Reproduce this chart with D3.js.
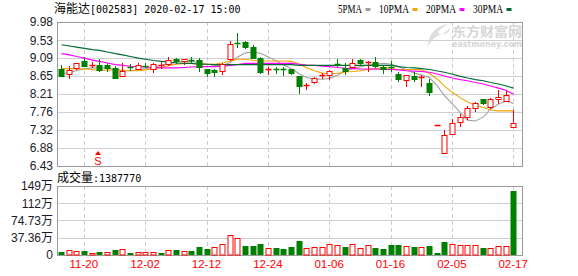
<!DOCTYPE html>
<html><head><meta charset="utf-8">
<script src="https://cdn.jsdelivr.net/npm/d3@7"></script>
<style>body{margin:0;background:#fff}svg{display:block}</style>
</head><body><svg id="c" width="578" height="276"></svg>
<script>
// ---------------- DATA ----------------
const dates = ["11-15","11-18","11-19","11-20","11-21","11-22","11-25","11-26","11-27","11-28","11-29",
"12-02","12-03","12-04","12-05","12-06","12-09","12-10","12-11","12-12","12-13","12-16","12-17","12-18","12-19","12-20",
"12-23","12-24","12-25","12-26","12-27","12-30","12-31","01-02","01-03","01-06","01-07","01-08","01-09","01-10",
"01-13","01-14","01-15","01-16","01-17","01-20","01-21","01-22","01-23","02-03","02-04","02-05","02-06","02-07",
"02-10","02-11","02-12","02-13","02-14","02-17"];
const tickDates = ["11-20","12-02","12-12","12-24","01-06","01-16","02-05","02-17"];

const open  = [8.82,8.70,8.84,9.02,8.91,8.92,8.92,8.84,8.66,8.88,8.83,8.90,8.83,8.91,8.95,9.08,9.02,9.05,9.04,8.81,
8.79,8.78,9.06,9.47,9.49,9.36,9.10,8.80,8.83,8.82,8.81,8.65,8.41,8.50,8.64,8.67,8.94,8.84,8.86,9.04,
8.97,8.99,8.88,8.88,8.71,8.55,8.65,8.60,8.48,7.43,6.76,7.21,7.51,7.65,7.85,8.07,7.89,8.07,8.04,7.39];
const high  = [8.92,8.90,8.97,9.12,9.00,9.08,8.96,8.90,8.98,8.95,8.97,8.96,8.96,8.99,9.12,9.09,9.08,9.11,9.09,8.83,
8.81,8.98,9.52,9.70,9.51,9.41,9.12,8.88,8.88,8.86,8.82,8.66,8.47,8.63,8.72,8.79,9.08,8.96,9.08,9.08,
9.03,9.11,8.90,9.02,8.74,8.67,8.74,8.67,8.57,7.43,7.32,7.60,7.71,7.92,8.02,8.08,8.10,8.30,8.28,7.81];
const low   = [8.64,8.59,8.83,8.89,8.86,8.77,8.78,8.59,8.65,8.80,8.82,8.86,8.74,8.85,8.93,8.96,8.95,8.98,8.76,8.64,
8.64,8.70,9.05,9.37,9.33,9.09,8.73,8.70,8.73,8.67,8.70,8.24,8.34,8.47,8.59,8.57,8.90,8.70,8.86,8.92,
8.76,8.88,8.73,8.76,8.52,8.39,8.53,8.41,8.18,7.43,6.76,7.21,7.42,7.59,7.79,7.95,7.87,7.98,8.03,7.39];
const close = [8.65,8.80,8.96,8.90,8.92,8.80,8.84,8.59,8.78,8.87,8.93,8.89,8.94,8.93,9.04,9.02,9.08,9.03,8.86,8.72,
8.74,8.94,9.44,9.45,9.37,9.10,8.75,8.82,8.81,8.80,8.72,8.39,8.43,8.60,8.67,8.78,8.93,8.76,8.96,8.96,
8.99,8.90,8.82,8.87,8.58,8.67,8.57,8.62,8.26,7.43,7.19,7.48,7.63,7.85,7.98,7.98,8.07,8.13,8.18,7.48];

const ma5  = [8.70,8.74,8.78,8.83,8.85,8.85,8.84,8.81,8.78,8.78,8.80,8.83,8.87,8.91,8.96,8.99,9.01,9.01,8.98,8.94,
8.91,8.91,8.99,9.12,9.22,9.24,9.21,9.12,9.02,8.92,8.83,8.70,8.61,8.57,8.57,8.59,8.67,8.77,8.83,8.88,
8.92,8.94,8.96,8.94,8.88,8.80,8.72,8.67,8.61,8.40,8.16,7.96,7.74,7.56,7.54,7.64,7.83,7.96,8.03,7.97];
const ma10 = [8.83,8.83,8.82,8.82,8.81,8.78,8.80,8.80,8.79,8.78,8.78,8.80,8.83,8.86,8.90,8.94,8.96,8.96,8.94,8.94,
8.94,8.97,9.02,9.06,9.06,9.03,9.02,9.02,9.02,9.02,9.01,8.94,8.85,8.78,8.72,8.71,8.71,8.75,8.76,8.78,
8.81,8.83,8.86,8.83,8.81,8.81,8.81,8.80,8.71,8.57,8.40,8.24,8.11,8.01,7.93,7.87,7.81,7.79,7.79,7.79];
const ma20 = [9.20,9.17,9.13,9.09,9.04,9.01,8.97,8.93,8.91,8.89,8.88,8.87,8.86,8.85,8.85,8.85,8.86,8.87,8.88,8.88,
8.88,8.89,8.91,8.93,8.96,8.96,8.96,8.96,8.96,8.96,8.96,8.94,8.92,8.91,8.89,8.88,8.86,8.84,8.83,8.82,
8.82,8.82,8.81,8.81,8.80,8.78,8.77,8.76,8.74,8.70,8.65,8.60,8.56,8.53,8.49,8.45,8.40,8.35,8.29,8.20];
const ma30 = [9.42,9.39,9.36,9.33,9.30,9.28,9.24,9.20,9.17,9.13,9.09,9.06,9.03,9.01,8.99,8.97,8.96,8.96,8.94,8.94,
8.93,8.93,8.93,8.93,8.93,8.93,8.93,8.93,8.93,8.93,8.93,8.91,8.91,8.91,8.91,8.91,8.91,8.91,8.91,8.91,
8.91,8.91,8.91,8.91,8.88,8.86,8.85,8.83,8.81,8.77,8.74,8.69,8.64,8.60,8.56,8.53,8.49,8.45,8.40,8.35];

// volume in 万 (10k hands); volUp: 1 = red (up), 0 = green (down)
const volume = [7.2,10.8,8.7,9.4,4.3,7.2,6.5,11.5,13.0,5.0,6.5,6.5,6.5,5.0,10.8,10.8,8.7,9.4,17.3,13.7,
16.6,23.8,42.6,36.8,19.5,19.5,23.8,15.2,15.2,13.0,17.3,31.0,15.2,16.6,16.6,23.1,21.7,17.3,23.8,15.2,
21.0,15.2,13.0,21.7,21.7,18.8,17.3,17.3,19.5,5.0,28.2,23.8,22.4,22.4,22.4,15.2,14.4,18.8,18.8,138.777];
const volUp = [0,1,1,0,1,0,1,0,1,0,1,1,1,0,1,0,1,0,0,0,1,1,1,1,0,0,0,1,0,0,0,0,1,1,1,1,1,0,1,1,
1,0,0,0,0,1,0,1,0,0,0,1,1,1,1,0,1,1,1,0];

const priceTicks = [9.98,9.53,9.09,8.65,8.21,7.76,7.32,6.88,6.43];
const priceTickLabels = ["9.98","9.53","9.09","8.65","8.21","7.76","7.32","6.88","6.43"];
const volTicks = [149.45,112.09,74.73,37.36,0];
const volTickLabels = ["149万","112万","74.73万","37.36万","0"];

const maNames = ["5PMA","10PMA","20PMA","30PMA"];
const maColors = ["#a0a0a0","#f5a300","#ff00ff","#006b35"];
const titleName = "海能达", titleRest = "[002583] 2020-02-17 15:00";
const volTitleName = "成交量", volTitleRest = ":1387770";

// ---------------- CHART ----------------
const svg = d3.select("#c");
const L = 57, R = 522, PT = 22, PB = 166, VT = 186, VB = 255;
const RED = "#ff0000", GREEN = "#008000";
const n = dates.length;
const x = d3.scaleBand().domain(d3.range(n)).range([L, 517]);
const cx = i => Math.round(x(i) + x.bandwidth() / 2) + 0.5;
const y = d3.scaleLinear().domain([6.43, 9.98]).range([PB, PT]);
const yv = d3.scaleLinear().domain([0, 149.45]).range([VB, VT]);
const tickIdx = tickDates.map(d => dates.indexOf(d));
const CJK = "'Noto Sans CJK SC', sans-serif";
const MONO = "'DejaVu Sans Mono', monospace";

// watermark
const wm = svg.append("g");
wm.append("path")
  .attr("d", "M449,24 C437,25 428,33 428,47 C431,40 436,36 441,35 C437,33 437,30 449,24 Z M441,35 C446,34 450,32 450,28 C447,31 444,33 441,35 Z")
  .attr("fill", "#dedede");
wm.append("text").attr("x", 452).attr("y", 35.5).text("东方财富网")
  .attr("font-family", CJK).attr("font-weight", "bold").attr("font-size", 13)
  .attr("fill", "#d6d6d6").attr("textLength", 70).attr("lengthAdjust", "spacingAndGlyphs");
wm.append("text").attr("x", 452).attr("y", 46.5).text("eastmoney.com")
  .attr("font-family", "'DejaVu Sans', sans-serif").attr("font-weight", "bold").attr("font-size", 8.5)
  .attr("fill", "#d6d6d6").attr("textLength", 70).attr("lengthAdjust", "spacingAndGlyphs");

// price gridlines + labels
const gy = svg.append("g").attr("transform", `translate(${L},0)`)
  .call(d3.axisLeft(y).tickValues(priceTicks).tickFormat((d, i) => priceTickLabels[i])
        .tickSize(-(R - L)).tickPadding(4));
gy.select(".domain").remove();
gy.selectAll("line").attr("stroke", "#d0d0d0").attr("shape-rendering", "crispEdges");
gy.selectAll("text").attr("font-family", "'Liberation Sans', Arial, sans-serif")
  .attr("font-size", 12).attr("fill", "#1a1a2a");

// volume gridlines + labels
const gv = svg.append("g").attr("transform", `translate(${L},0)`)
  .call(d3.axisLeft(yv).tickValues(volTicks).tickFormat((d, i) => volTickLabels[i])
        .tickSize(-(R - L)).tickPadding(4));
gv.select(".domain").remove();
gv.selectAll("line").attr("stroke", "#d0d0d0").attr("shape-rendering", "crispEdges");
gv.selectAll("text").attr("font-family", "'Liberation Sans', Arial, " + CJK)
  .attr("font-size", 12).attr("fill", "#1a1a2a");

// vertical dashed gridlines
[[PT, PB], [VT, VB]].forEach(([t, b]) => {
  svg.append("g").selectAll("line").data(tickIdx).join("line")
    .attr("x1", i => cx(i)).attr("x2", i => cx(i)).attr("y1", t).attr("y2", b)
    .attr("stroke", "#cccccc").attr("stroke-dasharray", "4,3");
});

// borders
[[PT, PB], [VT, VB]].forEach(([t, b]) => {
  svg.append("rect").attr("x", L + 0.5).attr("y", t + 0.5).attr("width", R - L).attr("height", b - t)
    .attr("fill", "none").attr("stroke", "#9a9a9a");
});

// date axis
const gx = svg.append("g").attr("transform", `translate(0,${VB})`)
  .call(d3.axisBottom(x).tickValues(tickIdx).tickFormat(i => dates[i]).tickSize(0).tickPadding(5));
gx.select(".domain").remove();
gx.selectAll("text").attr("font-family", "'Liberation Sans', Arial, sans-serif")
  .attr("font-size", 11.5).attr("fill", RED);

// MA lines
[ma5, ma10, ma20, ma30].forEach((arr, k) => {
  svg.append("path").datum(arr)
    .attr("d", d3.line().x((d, i) => cx(i)).y(d => y(d)))
    .attr("fill", "none").attr("stroke", maColors[k]).attr("stroke-width", 1.1);
});

// candles
const bw = 5;
const cg = svg.append("g");
d3.range(n).forEach(i => {
  const up = close[i] >= open[i];
  const col = up ? RED : GREEN;
  const xc = cx(i);
  cg.append("line").attr("x1", xc).attr("x2", xc)
    .attr("y1", Math.round(y(high[i]))).attr("y2", Math.round(y(low[i])) + 1)
    .attr("stroke", col);
  const yt = Math.round(y(Math.max(open[i], close[i])));
  const yb = Math.round(y(Math.min(open[i], close[i])));
  if (yb - yt < 2) {
    cg.append("line").attr("x1", xc - bw / 2 - 0.5).attr("x2", xc + bw / 2 + 0.5)
      .attr("y1", yt + 0.5).attr("y2", yt + 0.5).attr("stroke", col).attr("stroke-width", 1.5);
  } else if (up) {
    cg.append("rect").attr("x", xc - bw / 2).attr("y", yt + 0.5).attr("width", bw).attr("height", yb - yt)
      .attr("fill", "#fff").attr("stroke", col);
  } else {
    cg.append("rect").attr("x", xc - bw / 2 - 0.5).attr("y", yt).attr("width", bw + 1).attr("height", yb - yt + 1)
      .attr("fill", col);
  }
});

// volume bars
const vg = svg.append("g");
d3.range(n).forEach(i => {
  const xc = cx(i);
  const top = Math.round(yv(volume[i]));
  if (volUp[i]) {
    vg.append("rect").attr("x", xc - bw / 2).attr("y", top + 0.5).attr("width", bw).attr("height", VB - top - 0.5)
      .attr("fill", "#fff").attr("stroke", RED);
  } else {
    vg.append("rect").attr("x", xc - bw / 2 - 0.5).attr("y", top).attr("width", bw + 1).attr("height", VB - top)
      .attr("fill", GREEN);
  }
});

// "S" marker under 11-22
const sx = cx(dates.indexOf("11-22")) - 1.5;
svg.append("path").attr("d", `M${sx - 3},${155} L${sx},${151} L${sx + 3},${155} Z`).attr("fill", RED);
svg.append("text").attr("x", sx).attr("y", 165).attr("text-anchor", "middle").text("S")
  .attr("font-family", "'Liberation Sans', Arial, sans-serif").attr("font-size", 11).attr("fill", RED);

// title
const tt = svg.append("text").attr("x", 54).attr("y", 12.5).attr("fill", "#000");
tt.append("tspan").text(titleName).attr("font-family", CJK).attr("font-size", 12);
tt.append("tspan").text(titleRest).attr("font-family", MONO).attr("font-size", 10);

// volume title
const vt = svg.append("text").attr("x", 57).attr("y", 181.5).attr("fill", "#000");
vt.append("tspan").text(volTitleName).attr("font-family", CJK).attr("font-size", 12);
vt.append("tspan").text(volTitleRest).attr("font-family", MONO).attr("font-size", 10);

// legend
let lx = 338;
maNames.forEach((name, k) => {
  const w = name.length * 6;
  svg.append("text").attr("x", lx).attr("y", 12.5).text(name)
    .attr("font-family", "'Liberation Serif', serif").attr("font-size", 12.5)
    .attr("textLength", w).attr("lengthAdjust", "spacingAndGlyphs").attr("fill", "#000");
  svg.append("rect").attr("x", lx + w + 3.5).attr("y", 8).attr("width", 5).attr("height", 3)
    .attr("fill", maColors[k]);
  lx += w + 3.5 + 5 + 8.5;
});
</script></body></html>
